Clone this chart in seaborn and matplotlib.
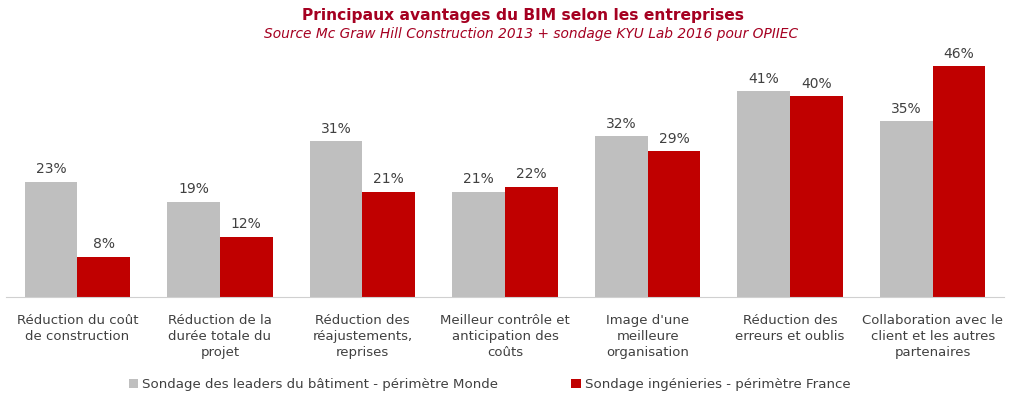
import numpy as np
import pandas as pd
import matplotlib
matplotlib.use("Agg")
import matplotlib.pyplot as plt
import seaborn as sns

# Data
categories = [
    "Réduction du coût\nde construction",
    "Réduction de la\ndurée totale du\nprojet",
    "Réduction des\nréajustements,\nreprises",
    "Meilleur contrôle et\nanticipation des\ncoûts",
    "Image d'une\nmeilleure\norganisation",
    "Réduction des\nerreurs et oublis",
    "Collaboration avec le\nclient et les autres\npartenaires",
]
monde = [23, 19, 31, 21, 32, 41, 35]
france = [8, 12, 21, 22, 29, 40, 46]
series_names = ["Sondage des leaders du bâtiment - périmètre Monde",
                "Sondage ingénieries - périmètre France"]
colors = ["#BFBFBF", "#C00000"]

df = pd.DataFrame({
    "cat": categories * 2,
    "val": monde + france,
    "serie": [series_names[0]] * len(categories) + [series_names[1]] * len(categories),
})

sns.set_style("white")
plt.rcParams["font.family"] = ["DejaVu Sans"]

fig = plt.figure(figsize=(10.24, 4.03), dpi=100)
ax = fig.add_axes([6 / 1024, 1 - 297 / 403, 998 / 1024, 251 / 403])

sns.barplot(data=df, x="cat", y="val", hue="serie", palette=colors,
            width=0.74, saturation=1, linewidth=0, ax=ax, legend=True)

for cont in ax.containers:
    ax.bar_label(cont, fmt="%d%%", padding=4, fontsize=10, color="#404040")

ax.set_ylim(0, 50)
ax.set_xlim(-0.5, len(categories) - 0.5)
ax.set_xlabel("")
ax.set_ylabel("")
ax.set_yticks([])
for s in ["top", "right", "left"]:
    ax.spines[s].set_visible(False)
ax.spines["bottom"].set_color("#D0D0D0")
ax.tick_params(axis="x", which="major", length=0, labelsize=9.5,
               labelcolor="#404040", pad=12)
for lbl in ax.get_xticklabels():
    lbl.set_linespacing(1.3)
ax.set_xticks(np.arange(-0.5, len(categories) + 0.5, 1), minor=True)
ax.tick_params(axis="x", which="minor", length=6, color="#D0D0D0")

ax.legend(loc="lower center", bbox_to_anchor=(0.478, 0.0),
          bbox_transform=fig.transFigure, ncol=2, frameon=False,
          fontsize=9.6, handlelength=0.7, handleheight=0.7,
          handletextpad=0.3, columnspacing=5.5, labelcolor="#404040")

fig.text(0.511, 0.962, "Principaux avantages du BIM selon les entreprises",
         ha="center", va="center", fontsize=11.2, fontweight="bold",
         color="#A50021")
fig.text(0.519, 0.915, "Source Mc Graw Hill Construction 2013 + sondage KYU Lab 2016 pour OPIIEC",
         ha="center", va="center", fontsize=9.9, style="italic", color="#A50021")

fig.savefig("out.png", dpi=100)
